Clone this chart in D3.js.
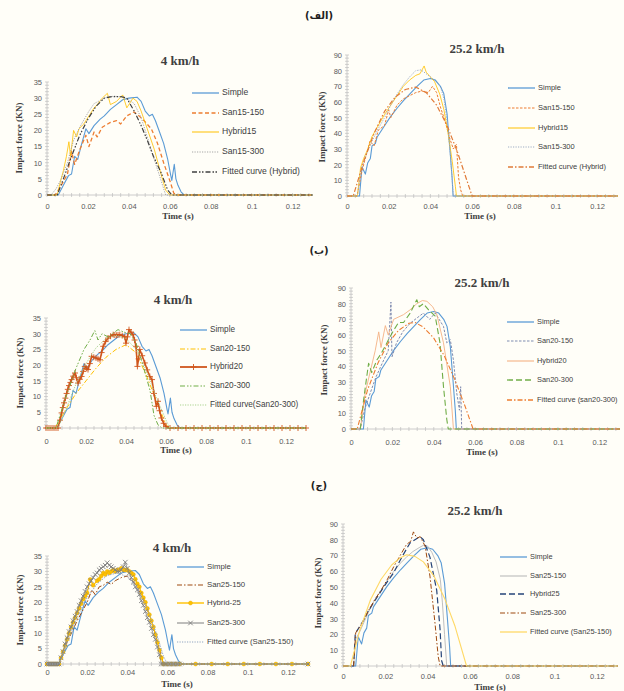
<!DOCTYPE html>
<html>
<head>
<meta charset="utf-8">
<script src="https://cdn.jsdelivr.net/npm/d3@7"></script>
<style>
  body { margin: 0; background: #fffef8; }
  svg { display: block; }
</style>
</head>
<body>
<div id="chart"></div>
<script>
// ---- tick labels ----
const xTicks = [0, 0.02, 0.04, 0.06, 0.08, 0.1, 0.12];
const yTicks4 = [0, 5, 10, 15, 20, 25, 30, 35];
const yTicks25 = [0, 10, 20, 30, 40, 50, 60, 70, 80, 90];
const sectionLabels = ['(الف)', '(ب)', '(ج)'];
const speedTitles = ['4 km/h', '25.2 km/h'];

// ---- series values: [time (s), impact force (KN)] ----
// reference beam, shared by all three rows
const simple4 = [[0,0],[0.0055,0],[0.008,3],[0.0105,6],[0.012,6.5],[0.0135,12],[0.015,11],[0.017,16],[0.019,20.5],[0.0205,19],[0.023,21.5],[0.026,23.5],[0.028,24.5],[0.031,26.5],[0.034,28],[0.037,29.5],[0.040,30],[0.044,30.3],[0.046,29],[0.048,26],[0.050,24.5],[0.0515,25],[0.053,23],[0.055,19.5],[0.057,16],[0.059,11],[0.0605,6],[0.061,4.5],[0.0622,9.5],[0.063,5],[0.064,3],[0.0655,1],[0.067,0],[0.13,0]];
const simple25 = [[0,0],[0.006,0],[0.0072,18.5],[0.0088,14],[0.0099,21],[0.0112,24],[0.012,32],[0.0136,33.5],[0.0144,37.5],[0.0176,44],[0.0208,50.5],[0.024,56],[0.0272,61],[0.0304,65.5],[0.0336,70],[0.0368,74],[0.04,75],[0.0424,74],[0.0448,70],[0.0464,65.5],[0.048,52.5],[0.0493,31],[0.0504,12],[0.0509,0],[0.13,0]];

// row 1 (15)
const san15_150_4 = [[0,0],[0.004,0],[0.007,3],[0.01,6.5],[0.012,13.5],[0.0135,9.5],[0.016,14],[0.019,18.5],[0.0205,15],[0.023,19.5],[0.0245,18],[0.027,21],[0.031,22.5],[0.034,23],[0.036,22],[0.039,24.5],[0.0425,25.7],[0.045,24.5],[0.0475,23],[0.051,20.5],[0.054,16],[0.057,10],[0.06,4.5],[0.062,0.5],[0.064,0],[0.13,0]];
const hybrid15_4 = [[0,0],[0.005,0],[0.0065,4],[0.008,7.5],[0.0095,12],[0.0107,16.5],[0.0115,12],[0.013,20],[0.0145,18],[0.0156,20.5],[0.018,22],[0.021,25],[0.023,27],[0.0246,28],[0.027,30],[0.0295,31.5],[0.031,28],[0.034,29],[0.037,31],[0.039,27],[0.042,30],[0.044,29],[0.046,26],[0.049,20.5],[0.0525,14],[0.0557,6.5],[0.058,1.5],[0.06,0],[0.13,0]];
const san15_300_4 = [[0,0],[0.002,0],[0.0045,2],[0.0066,4.5],[0.01,10],[0.013,17],[0.016,21],[0.0205,26],[0.023,28.3],[0.026,29.3],[0.0295,30.4],[0.033,30.6],[0.036,30.4],[0.039,29.9],[0.0426,28.3],[0.046,24],[0.049,18],[0.0525,10.8],[0.0557,4.6],[0.058,0],[0.13,0]];
const fitHybrid15_4 = [[0,0],[0.005,0],[0.008,5],[0.012,12],[0.016,18.5],[0.02,23.5],[0.024,27.5],[0.028,30],[0.032,30.5],[0.036,30.5],[0.039,30],[0.0426,26],[0.046,21.5],[0.049,17],[0.052,12],[0.0557,7],[0.059,1.5],[0.061,0],[0.13,0]];

const san15_150_25 = [[0,0],[0.0048,0],[0.007,15],[0.009,25],[0.011,35],[0.013,32],[0.015,42],[0.018,45],[0.02,55],[0.021,50],[0.024,58],[0.027,62],[0.03,64],[0.033,66],[0.036,67],[0.039,66],[0.041,70],[0.043,66],[0.045,56],[0.047,48],[0.049,38],[0.051,30],[0.0525,33],[0.0535,12],[0.0545,4],[0.0555,0],[0.13,0]];
const hybrid15_25 = [[0,0],[0.005,0],[0.0065,18],[0.008,24],[0.01,30],[0.012,38],[0.015,45],[0.018,52],[0.021,58],[0.024,64],[0.027,70],[0.03,74],[0.033,77],[0.035,78],[0.037,83],[0.038,79],[0.04,76],[0.042,73],[0.0445,65],[0.0465,55],[0.0485,40],[0.0505,22],[0.052,6],[0.0525,0],[0.13,0]];
const san15_300_25 = [[0,0],[0.005,0],[0.0065,15],[0.009,26],[0.012,35],[0.015,43],[0.018,50],[0.021,58],[0.024,65],[0.027,71],[0.03,76],[0.033,80],[0.0355,80.5],[0.038,78],[0.041,75],[0.0448,70],[0.0465,62],[0.048,48],[0.0495,28],[0.0505,10],[0.051,0],[0.13,0]];
const fitHybrid15_25 = [[0,0],[0.003,0],[0.008,22],[0.013,40],[0.018,54],[0.023,63],[0.028,68],[0.033,69.5],[0.038,66],[0.043,58],[0.048,45],[0.053,28],[0.057,12],[0.06,0],[0.13,0]];

// row 2 (20)
const san20_150_4 = [[0,0],[0.0045,0],[0.01,6],[0.015,11],[0.02,15],[0.025,19],[0.03,22.5],[0.035,25],[0.04,26.5],[0.045,24],[0.05,17],[0.055,9],[0.06,1],[0.062,0],[0.13,0]];
const hybrid20_4 = [[0,0],[0.001,0],[0.002,0],[0.003,0],[0.004,0],[0.005,0],[0.006,0],[0.007,2.5],[0.0078,4.8],[0.0084,6.5],[0.009,8],[0.0097,9.5],[0.0103,11],[0.0109,12.3],[0.0115,13.5],[0.0122,14.5],[0.0128,15.4],[0.0136,16.5],[0.0145,17.5],[0.0152,16],[0.016,14.3],[0.0169,15.5],[0.0178,16.4],[0.0186,18],[0.0194,19.6],[0.0202,19],[0.021,18.6],[0.0219,20.5],[0.0228,22.8],[0.0239,22.5],[0.025,22.3],[0.026,22],[0.027,21.7],[0.0278,24],[0.0286,26],[0.0298,27.5],[0.031,28.6],[0.0323,29.2],[0.0336,29.7],[0.0344,29.6],[0.0352,29.5],[0.036,29.6],[0.0369,29.7],[0.0381,29.4],[0.0394,29],[0.04,27],[0.0407,29],[0.0415,31.3],[0.0425,30.5],[0.0435,29.7],[0.0443,28],[0.045,26],[0.0457,19.6],[0.0463,22],[0.0469,25],[0.0481,23],[0.0494,20.7],[0.0506,18.5],[0.0519,16.4],[0.053,15.4],[0.054,11],[0.0552,6.9],[0.056,8.5],[0.0568,5.5],[0.0577,3.2],[0.0588,1.5],[0.06,0.5],[0.062,0],[0.066,0],[0.07,0],[0.074,0],[0.078,0],[0.082,0],[0.086,0],[0.09,0],[0.094,0],[0.098,0],[0.102,0],[0.106,0],[0.11,0],[0.114,0],[0.118,0],[0.122,0],[0.126,0],[0.13,0]];
const san20_300_4 = [[0,0],[0.005,0],[0.01,10],[0.015,19],[0.019,25],[0.022,28],[0.0244,31],[0.026,28],[0.028,30],[0.031,29],[0.036,31.3],[0.039,30.5],[0.042,30],[0.045,27],[0.048,21],[0.052,12],[0.054,4],[0.056,1],[0.058,0],[0.13,0]];
const fitSan20_4 = [[0,0],[0.006,0],[0.01,6],[0.015,14],[0.02,20.5],[0.025,25.5],[0.03,28.5],[0.035,29.5],[0.04,28.5],[0.045,25],[0.05,18.5],[0.055,10],[0.06,2.5],[0.062,0],[0.13,0]];

const san20_150_25 = [[0,0],[0.0045,0],[0.0065,12],[0.0093,23],[0.012,33],[0.0158,44],[0.018,50],[0.0193,81],[0.0198,46],[0.022,55],[0.025,62],[0.0286,67.5],[0.032,71],[0.035,74],[0.038,70],[0.0407,74],[0.0447,65.5],[0.0463,55],[0.048,57],[0.0495,44],[0.0511,23],[0.0524,12],[0.053,27],[0.0535,0],[0.13,0]];
const hybrid20_25 = [[0,0],[0.0045,0],[0.0069,23],[0.009,35],[0.0117,50],[0.0134,62],[0.0145,52],[0.0166,66],[0.018,60],[0.0206,70],[0.0254,73],[0.0285,76],[0.0318,80],[0.0345,82],[0.0367,81.5],[0.0395,78],[0.0415,73],[0.0447,55],[0.048,27],[0.0495,0],[0.13,0]];
const san20_300_25 = [[0,0],[0.0045,0],[0.0061,18.7],[0.0085,42],[0.01,36],[0.0125,44],[0.0145,48],[0.0166,53],[0.0185,58],[0.0206,63],[0.023,68],[0.0254,68],[0.0286,74],[0.0318,82.5],[0.033,78],[0.035,80],[0.0375,76],[0.0407,72],[0.043,55],[0.0447,27],[0.0463,6],[0.047,0],[0.13,0]];
const fitSan20_25 = [[0,0],[0.003,0],[0.008,25],[0.013,42],[0.018,55],[0.023,63],[0.028,67.5],[0.031,68],[0.035,65],[0.04,58],[0.045,47],[0.05,32],[0.055,15],[0.059,0],[0.13,0]];

// row 3 (25)
const san25_150_4 = [[0,0],[0.006,0],[0.01,7],[0.015,14],[0.02,20],[0.0223,24],[0.024,22.5],[0.026,25],[0.028,25.5],[0.03,26.5],[0.032,25.8],[0.034,27],[0.037,28],[0.04,28.5],[0.044,26],[0.048,21],[0.052,14],[0.056,5],[0.058,0],[0.13,0]];
const hybrid25_4 = [[0,0],[0.001,0],[0.002,0],[0.003,0],[0.004,0],[0.005,0],[0.006,0],[0.007,2],[0.008,4],[0.009,6],[0.01,8],[0.011,10],[0.012,12],[0.013,13.5],[0.014,15],[0.015,16.5],[0.016,18],[0.017,19.5],[0.018,21],[0.019,22],[0.02,23],[0.0215,27.4],[0.023,25.5],[0.025,27],[0.026,27.5],[0.027,28.5],[0.028,29.5],[0.029,29],[0.03,30],[0.031,29.5],[0.032,30],[0.033,30.5],[0.034,30],[0.035,30.5],[0.036,30.5],[0.037,31],[0.038,30.5],[0.039,30.5],[0.04,30.5],[0.041,30],[0.042,29.5],[0.043,29],[0.044,27.5],[0.045,26],[0.046,25],[0.047,23],[0.048,21.5],[0.049,20],[0.05,18],[0.051,16],[0.052,14],[0.053,12],[0.054,9.5],[0.055,7],[0.056,4.5],[0.057,2],[0.058,0],[0.06,0],[0.062,0],[0.064,0],[0.066,0],[0.074,0],[0.082,0],[0.09,0],[0.098,0],[0.106,0],[0.114,0],[0.122,0],[0.13,0]];
const san25_300_4 = [[0,0],[0.001,0],[0.002,0],[0.003,0],[0.004,0],[0.005,0],[0.006,0],[0.007,2],[0.008,4],[0.009,6.5],[0.01,8.5],[0.011,10.5],[0.012,12],[0.013,14],[0.014,15.5],[0.015,17],[0.016,19],[0.017,20.5],[0.018,22],[0.019,23.5],[0.02,25],[0.021,26],[0.022,27],[0.023,28],[0.024,29],[0.025,29.5],[0.026,30.5],[0.027,31],[0.028,31.5],[0.029,32],[0.03,32.8],[0.031,32],[0.032,31.5],[0.033,31],[0.034,30.5],[0.035,30],[0.036,30],[0.037,30.5],[0.038,31.5],[0.039,33],[0.04,31],[0.041,29.5],[0.042,28],[0.043,26.5],[0.044,25],[0.045,24],[0.046,22.5],[0.047,20.5],[0.048,19],[0.049,17],[0.05,15],[0.051,13.5],[0.052,11.5],[0.053,9.5],[0.054,8],[0.055,5.5],[0.056,3],[0.057,0],[0.058,0],[0.059,0],[0.06,0],[0.061,0],[0.062,0],[0.063,0],[0.064,0],[0.065,0],[0.066,0],[0.13,0]];
const fitSan25_4 = [[0,0],[0.006,0],[0.01,7],[0.015,15],[0.02,21.5],[0.025,26],[0.03,28.7],[0.035,29.5],[0.04,28.3],[0.045,24.5],[0.05,18],[0.055,9],[0.058,2.5],[0.06,0],[0.13,0]];

const san25_150_25 = [[0,0],[0.005,0],[0.006,17],[0.008,22],[0.01,28],[0.012,34],[0.015,42],[0.018,48],[0.021,54],[0.024,60],[0.027,65],[0.03,69],[0.033,72.5],[0.036,75],[0.038,76.5],[0.04,76],[0.042,72],[0.044,66],[0.046,55],[0.047,40],[0.048,20],[0.0488,5],[0.049,0],[0.13,0]];
const hybrid25_25 = [[0,0],[0.005,0],[0.0058,20.5],[0.0097,29],[0.012,35],[0.0144,40],[0.0192,50],[0.0239,59],[0.0278,69],[0.0317,78],[0.0364,82],[0.038,80],[0.0411,69],[0.0443,48],[0.0459,23],[0.0466,3.5],[0.0474,0],[0.13,0]];
const san25_300_25 = [[0,0],[0.005,0],[0.006,21],[0.009,27],[0.012,35],[0.015,42],[0.018,48],[0.021,55],[0.024,63],[0.027,70],[0.03,77],[0.032,79],[0.0333,85],[0.035,81],[0.0365,82],[0.0388,76],[0.0411,57],[0.0435,27],[0.045,6],[0.0459,0],[0.13,0]];
const fitSan25_25 = [[0,0],[0.0035,0],[0.008,23],[0.013,42],[0.018,55],[0.023,64],[0.027,68.5],[0.03,70.5],[0.034,69.5],[0.038,66],[0.043,57],[0.048,43],[0.053,25],[0.0584,0],[0.13,0]];

// ---- layout ----
const width = 624, height = 691;
const svg = d3.select('#chart').append('svg')
    .attr('width', width)
    .attr('height', height);

svg.append('rect').attr('width', width).attr('height', height).attr('fill', '#fffef8');

// dash styles
const DASH = {
    solid: null,
    dash: '4,2.5',
    shortDash: '2.5,1.5',
    dot: '1.2,1.3',
    dashDot: '5,2,1.5,2',
    dashDotDot: '5,2,1.5,1.5,1.5,2',
    longDash: '6,3'
};

const BLUE = '#5b9bd5';

// one config per chart; axes given in pixel ranges
const panels = [
    {x: [47, 313], y: [195, 82], yMax: 35, yTicks: yTicks4, title: speedTitles[0], titlePos: [180, 62], xPad: 9, legFont: 8.6,
     legX: 192, legY: [93, 113, 132, 152, 172], yTitle: [20, 138], xTitle: [178, 217],
     series: [
        {name: 'Simple', data: simple4, color: BLUE, dash: 'solid', w: 1.1},
        {name: 'San15-150', data: san15_150_4, color: '#ed7d31', dash: 'dash', w: 1.3},
        {name: 'Hybrid15', data: hybrid15_4, color: '#ffc000', dash: 'solid', w: 0.8},
        {name: 'San15-300', data: san15_300_4, color: '#a5a5a5', dash: 'dot', w: 1},
        {name: 'Fitted curve (Hybrid)', data: fitHybrid15_4, color: '#404040', dash: 'dashDotDot', w: 1.2}
     ]},
    {x: [347, 618], y: [196, 55], yMax: 90, yTicks: yTicks25, title: speedTitles[1], titlePos: [477, 50], xPad: 7.5, legFont: 7.5,
     legX: 508, legY: [88, 108, 128, 147, 167], yTitle: [323, 127], xTitle: [480, 217],
     series: [
        {name: 'Simple', data: simple25, color: BLUE, dash: 'solid', w: 1.1},
        {name: 'San15-150', data: san15_150_25, color: '#ed7d31', dash: 'shortDash', w: 1},
        {name: 'Hybrid15', data: hybrid15_25, color: '#ffc000', dash: 'solid', w: 0.8},
        {name: 'San15-300', data: san15_300_25, color: '#9dabc4', dash: 'dot', w: 1},
        {name: 'Fitted curve (Hybrid)', data: fitHybrid15_25, color: '#e07b39', dash: 'dashDot', w: 1.2}
     ]},
    {x: [46, 306], y: [428, 318], yMax: 35, yTicks: yTicks4, title: speedTitles[0], titlePos: [173, 301], xPad: 10.5, legFont: 8.2,
     legX: 180, legY: [330, 349, 367, 386, 405], yTitle: [21, 373], xTitle: [176, 451],
     series: [
        {name: 'Simple', data: simple4, color: BLUE, dash: 'solid', w: 1.1},
        {name: 'San20-150', data: san20_150_4, color: '#ffc000', dash: 'dashDot', w: 1},
        {name: 'Hybrid20', data: hybrid20_4, color: '#d0561c', dash: 'solid', w: 1.6, marker: 'plus'},
        {name: 'San20-300', data: san20_300_4, color: '#70ad47', dash: 'dashDotDot', w: 1},
        {name: 'Fitted curve(San20-300)', data: fitSan20_4, color: '#a9d18e', dash: 'dot', w: 1}
     ]},
    {x: [351, 620], y: [429, 288], yMax: 90, yTicks: yTicks25, title: speedTitles[1], titlePos: [482, 284], xPad: 11, legFont: 7.4,
     legX: 507, legY: [322, 341, 361, 380, 400], yTitle: [325, 360], xTitle: [482, 453],
     series: [
        {name: 'Simple', data: simple25, color: BLUE, dash: 'solid', w: 1.1},
        {name: 'San20-150', data: san20_150_25, color: '#7f8bb0', dash: 'shortDash', w: 1},
        {name: 'Hybrid20', data: hybrid20_25, color: '#f4b183', dash: 'solid', w: 0.9},
        {name: 'San20-300', data: san20_300_25, color: '#70ad47', dash: 'longDash', w: 1.1},
        {name: 'Fitted curve (san20-300)', data: fitSan20_25, color: '#ed7d31', dash: 'dashDot', w: 1.1}
     ]},
    {x: [47, 308], y: [664, 556], yMax: 35, yTicks: yTicks4, title: speedTitles[0], titlePos: [172, 549], xPad: 6, legFont: 7.8,
     legX: 177, legY: [567, 585, 603, 623, 642], yTitle: [21, 610], xTitle: [177, 685],
     series: [
        {name: 'Simple', data: simple4, color: BLUE, dash: 'solid', w: 1.1},
        {name: 'San25-150', data: san25_150_4, color: '#9e480e', dash: 'dashDot', w: 1},
        {name: 'Hybrid-25', data: hybrid25_4, color: '#ffc000', dash: 'solid', w: 1.2, marker: 'dot'},
        {name: 'San25-300', data: san25_300_4, color: '#7f7f7f', dash: 'solid', w: 0.8, marker: 'x'},
        {name: 'Fitted curve (San25-150)', data: fitSan25_4, color: '#8fa3c0', dash: 'dot', w: 1}
     ]},
    {x: [343, 618], y: [666, 524], yMax: 90, yTicks: yTicks25, title: speedTitles[1], titlePos: [475, 512], xPad: 7.5, legFont: 7.4,
     legX: 500, legY: [557, 576, 594, 613, 632], yTitle: [319, 593], xTitle: [490, 688],
     series: [
        {name: 'Simple', data: simple25, color: BLUE, dash: 'solid', w: 1.1},
        {name: 'San25-150', data: san25_150_25, color: '#bfbfbf', dash: 'solid', w: 1},
        {name: 'Hybrid25', data: hybrid25_25, color: '#264478', dash: 'longDash', w: 1.2},
        {name: 'San25-300', data: san25_300_25, color: '#9e480e', dash: 'dashDot', w: 1},
        {name: 'Fitted curve (San25-150)', data: fitSan25_25, color: '#ffd966', dash: 'solid', w: 1.1}
     ]}
];

// section headers
const headerY = [16, 251, 486];
sectionLabels.forEach((s, i) => {
    svg.append('text')
        .attr('x', 319).attr('y', headerY[i])
        .attr('text-anchor', 'middle')
        .attr('dominant-baseline', 'middle')
        .style('font-family', 'DejaVu Sans')
        .style('font-weight', 'bold')
        .style('font-size', '10px')
        .style('fill', '#222')
        .text(s);
});

function markerPath(type) {
    if (type === 'plus') return 'M-3,0H3M0,-3V3';
    if (type === 'x') return 'M-2.3,-2.3L2.3,2.3M-2.3,2.3L2.3,-2.3';
    return null;
}

function drawMarker(sel, s, px, py) {
    if (s.marker === 'dot') {
        sel.append('circle').attr('cx', px).attr('cy', py).attr('r', 2)
            .attr('fill', s.color).attr('stroke', '#e0a800').attr('stroke-width', 0.4);
    } else {
        sel.append('path').attr('d', markerPath(s.marker))
            .attr('transform', `translate(${px},${py})`)
            .attr('stroke', s.color).attr('stroke-width', 0.9).attr('fill', 'none');
    }
}

function drawPanel(p) {
    const x = d3.scaleLinear().domain([0, 0.13]).range(p.x);
    const y = d3.scaleLinear().domain([0, p.yMax]).range(p.y);
    const g = svg.append('g');

    // title
    g.append('text')
        .attr('x', p.titlePos[0]).attr('y', p.titlePos[1])
        .attr('text-anchor', 'middle').attr('dominant-baseline', 'middle')
        .style('font-family', 'Liberation Serif').style('font-weight', 'bold')
        .style('font-size', '13px').style('fill', '#404040')
        .text(p.title);

    // axes lines
    const axisColor = '#bfbfbf';
    g.append('line').attr('x1', x(0)).attr('x2', x(0.13)).attr('y1', y(0)).attr('y2', y(0))
        .attr('stroke', axisColor).attr('stroke-width', 0.8);
    g.append('line').attr('x1', x(0)).attr('x2', x(0)).attr('y1', y(0)).attr('y2', y(p.yMax))
        .attr('stroke', axisColor).attr('stroke-width', 0.8);

    // minor ticks (cross)
    const xMinor = d3.range(0, 0.1301, 0.004);
    g.selectAll('.xmin').data(xMinor).enter().append('line')
        .attr('x1', d => x(d)).attr('x2', d => x(d))
        .attr('y1', y(0) - 2).attr('y2', y(0) + 2)
        .attr('stroke', axisColor).attr('stroke-width', 0.7);
    const yStep = p.yTicks[1] / 5;
    const yMinor = d3.range(0, p.yMax + 0.001, yStep);
    g.selectAll('.ymin').data(yMinor).enter().append('line')
        .attr('x1', x(0) - 2).attr('x2', x(0) + 2)
        .attr('y1', d => y(d)).attr('y2', d => y(d))
        .attr('stroke', axisColor).attr('stroke-width', 0.7);

    // tick labels via d3 axes
    const xAxis = d3.axisBottom(x).tickValues(xTicks).tickSize(0).tickPadding(p.xPad)
        .tickFormat(d => d === 0 ? '0' : String(+d.toFixed(2)));
    const yAxis = d3.axisLeft(y).tickValues(p.yTicks).tickSize(0).tickPadding(5);
    const gx = g.append('g').attr('transform', `translate(0,${y(0)})`).call(xAxis);
    const gy = g.append('g').attr('transform', `translate(${x(0)},0)`).call(yAxis);
    [gx, gy].forEach(a => {
        a.select('.domain').remove();
        a.selectAll('text').style('font-family', 'Liberation Sans').style('font-size', '7.5px').style('fill', '#595959');
    });

    // axis titles
    g.append('text')
        .attr('transform', `translate(${p.yTitle[0]},${p.yTitle[1]}) rotate(-90)`)
        .attr('text-anchor', 'middle').attr('dominant-baseline', 'middle')
        .style('font-family', 'Liberation Serif').style('font-weight', 'bold')
        .style('font-size', '9px').style('fill', '#404040')
        .text('Impact force (KN)');
    g.append('text')
        .attr('x', p.xTitle[0]).attr('y', p.xTitle[1])
        .attr('text-anchor', 'middle').attr('dominant-baseline', 'middle')
        .style('font-family', 'Liberation Serif').style('font-weight', 'bold')
        .style('font-size', '9px').style('fill', '#404040')
        .text('Time (s)');

    // series
    const line = d3.line().x(d => x(d[0])).y(d => y(d[1]));
    p.series.forEach(s => {
        g.append('path').datum(s.data)
            .attr('d', line)
            .attr('fill', 'none')
            .attr('stroke', s.color)
            .attr('stroke-width', s.w)
            .attr('stroke-linejoin', 'round')
            .attr('stroke-dasharray', DASH[s.dash]);
        if (s.marker) {
            const mg = g.append('g');
            s.data.forEach(d => drawMarker(mg, s, x(d[0]), y(d[1])));
        }
    });

    // legend
    p.series.forEach((s, i) => {
        const ly = p.legY[i];
        g.append('line')
            .attr('x1', p.legX).attr('x2', p.legX + 27)
            .attr('y1', ly).attr('y2', ly)
            .attr('stroke', s.color).attr('stroke-width', s.w + 0.2)
            .attr('stroke-dasharray', DASH[s.dash]);
        if (s.marker) drawMarker(g, s, p.legX + 13.5, ly);
        g.append('text')
            .attr('x', p.legX + 30).attr('y', ly)
            .attr('dominant-baseline', 'middle')
            .style('font-family', 'Liberation Sans').style('font-size', p.legFont + 'px')
            .style('fill', '#404040')
            .text(s.name);
    });
}

panels.forEach(drawPanel);
</script>
</body>
</html>
